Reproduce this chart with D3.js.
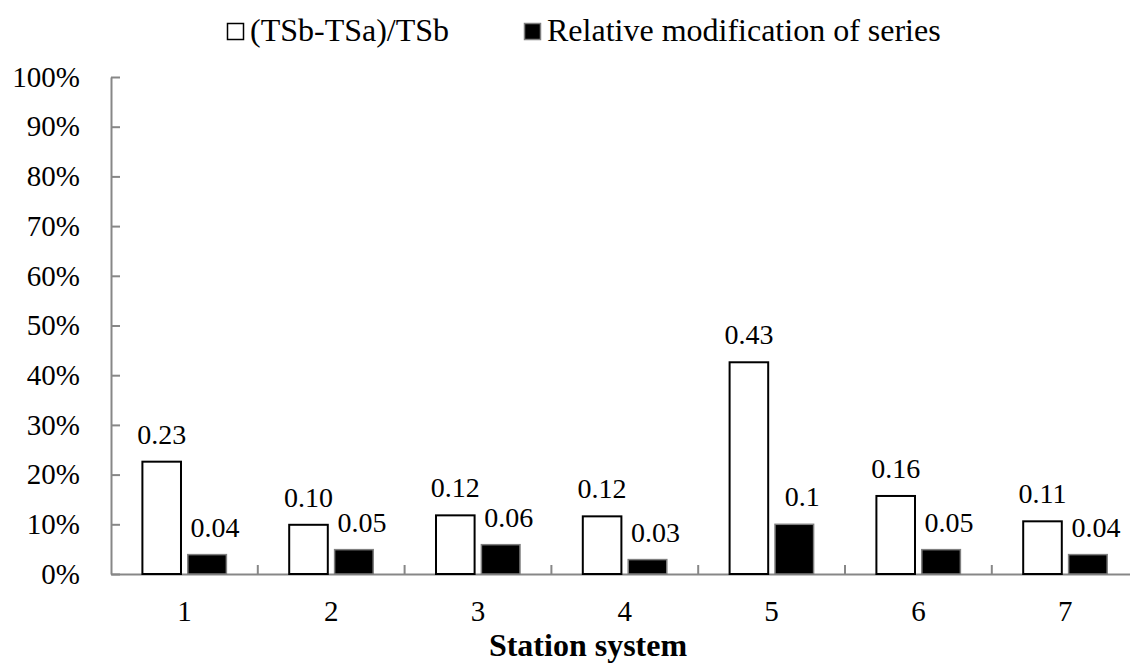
<!DOCTYPE html>
<html>
<head>
<meta charset="utf-8">
<script src="https://cdn.jsdelivr.net/npm/d3@7"></script>
<style>
  body { margin: 0; background: #fff; }
  text { font-family: "Liberation Serif", "Times New Roman", serif; fill: #000; }
</style>
</head>
<body>
<div id="chart"></div>
<script>
// data
const stations = ['1', '2', '3', '4', '5', '6', '7'];
const tsRatio = [0.226, 0.099, 0.118, 0.116, 0.426, 0.157, 0.106];
const tsRatioLabels = ['0.23', '0.10', '0.12', '0.12', '0.43', '0.16', '0.11'];
const relModif = [0.039, 0.049, 0.059, 0.029, 0.1, 0.049, 0.039];
const relModifLabels = ['0.04', '0.05', '0.06', '0.03', '0.1', '0.05', '0.04'];
const yTicks = [0, 0.1, 0.2, 0.3, 0.4, 0.5, 0.6, 0.7, 0.8, 0.9, 1];
const seriesNames = ['(TSb-TSa)/TSb', 'Relative modification of series'];

(function(){
    const margin = { top: 77, left: 111, bottom: 90, right: 0 };
    const fullWidth = 1130;
    const fullHeight = 664;
    const width = 7 * 146.8;
    const height = fullHeight - margin.top - margin.bottom;

    const svg = d3.select('#chart')
        .append('svg')
            .attr('width', fullWidth)
            .attr('height', fullHeight)
        .append('g')
            .attr('transform', `translate(${margin.left}, ${margin.top})`);

    const axisGrey = '#878787';

    const xScale = d3.scaleBand()
        .domain(stations)
        .range([0, width])
        .padding(0);

    const bw = xScale.bandwidth();
    const xSub = d3.scaleBand()
        .domain(['a', 'b'])
        .range([bw / 2 - 42, bw / 2 + 42])
        .paddingInner(0.15);

    const yScale = d3.scaleLinear()
        .domain([0, 1])
        .range([height, 0]);

    // y axis, ticks pointing into the plot
    const yAxis = d3.axisLeft(yScale)
        .tickValues(yTicks)
        .tickFormat(d3.format('.0%'))
        .tickSizeInner(-9)
        .tickSizeOuter(0)
        .tickPadding(31);

    const yg = svg.append('g').call(yAxis);
    yg.selectAll('path, line').attr('stroke', axisGrey).attr('stroke-width', 2);
    yg.selectAll('text').style('font-size', '29px').attr('font-family', null);

    // x axis
    const xAxis = d3.axisBottom(xScale)
        .tickSize(0)
        .tickPadding(26);

    const xg = svg.append('g')
        .attr('transform', `translate(0, ${height})`)
        .call(xAxis);
    xg.select('.domain').attr('stroke', axisGrey).attr('stroke-width', 2);
    xg.selectAll('text').style('font-size', '29px').attr('font-family', null);

    // category separators
    svg.append('g')
        .selectAll('line')
        .data(stations.slice(1))
        .enter()
        .append('line')
            .attr('x1', d => xScale(d))
            .attr('x2', d => xScale(d))
            .attr('y1', height)
            .attr('y2', height - 9)
            .attr('stroke', axisGrey)
            .attr('stroke-width', 2);

    const groups = svg.selectAll('.station')
        .data(stations)
        .enter()
        .append('g')
            .attr('class', 'station')
            .attr('transform', d => `translate(${xScale(d)}, 0)`);

    groups.append('rect')
        .attr('x', xSub('a'))
        .attr('width', xSub.bandwidth())
        .attr('y', (d, i) => yScale(tsRatio[i]))
        .attr('height', (d, i) => height - yScale(tsRatio[i]))
        .attr('fill', '#fff')
        .attr('stroke', '#000')
        .attr('stroke-width', 2);

    groups.append('rect')
        .attr('x', xSub('b'))
        .attr('width', xSub.bandwidth())
        .attr('y', (d, i) => yScale(relModif[i]))
        .attr('height', (d, i) => height - yScale(relModif[i]))
        .attr('fill', '#000')
        .attr('stroke', '#7f7f7f')
        .attr('stroke-width', 1.5);

    groups.append('text')
        .style('text-anchor', 'middle')
        .style('font-size', '28px')
        .attr('x', xSub('a') + xSub.bandwidth() / 2)
        .attr('y', (d, i) => yScale(tsRatio[i]) - 18)
        .text((d, i) => tsRatioLabels[i]);

    groups.append('text')
        .style('text-anchor', 'middle')
        .style('font-size', '28px')
        .attr('x', xSub('b') + xSub.bandwidth() / 2 + 8)
        .attr('y', (d, i) => yScale(relModif[i]) - 18)
        .text((d, i) => relModifLabels[i]);

    // axis title
    svg.append('text')
        .style('text-anchor', 'middle')
        .style('font-size', '32px')
        .style('font-weight', 'bold')
        .attr('x', 588 - margin.left)
        .attr('y', 656 - margin.top)
        .text('Station system');

    // legend
    const legend = d3.select('#chart svg').append('g');
    const legendX = [227, 524];
    seriesNames.forEach((name, i) => {
        const g = legend.append('g').attr('transform', `translate(${legendX[i]}, 23)`);
        g.append('rect')
            .attr('x', 0.5)
            .attr('y', 0.5)
            .attr('width', 16)
            .attr('height', 16)
            .attr('fill', i === 0 ? '#fff' : '#000')
            .attr('stroke', i === 0 ? '#000' : '#7f7f7f')
            .attr('stroke-width', 1.5);
        g.append('text')
            .attr('x', 23)
            .attr('y', 18)
            .style('font-size', '32px')
            .text(name);
    });
}());
</script>
</body>
</html>
